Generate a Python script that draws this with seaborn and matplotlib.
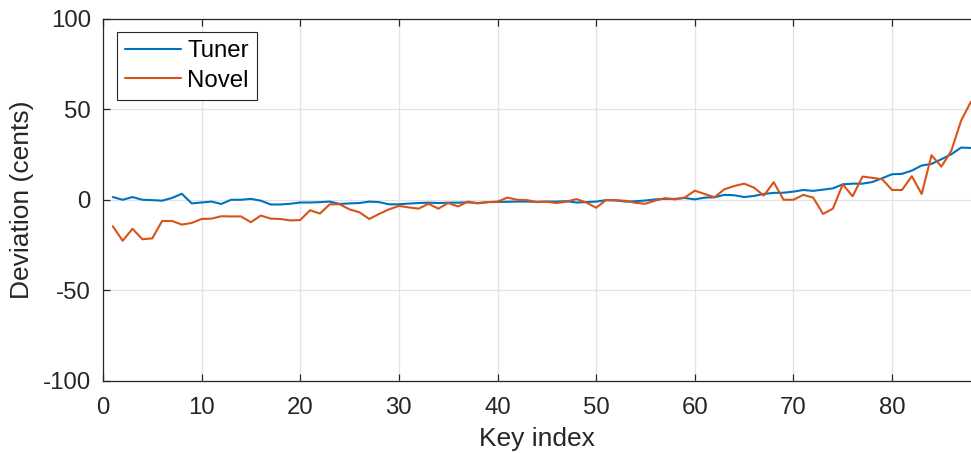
import numpy as np
import pandas as pd
import matplotlib
matplotlib.use("Agg")
import matplotlib.pyplot as plt
import seaborn as sns

# Piano key index (1..88) and deviation from equal temperament, in cents
keys = list(range(1, 89))

tuner = [
    1.5, 0.0, 1.5, 0.0, -0.2, -0.5, 1.0, 3.3, -2.0, -1.5,
    -1.0, -2.3, 0.0, 0.0, 0.5, -0.5, -2.6, -2.6, -2.2, -1.5,
    -1.5, -1.3, -1.0, -2.3, -2.0, -1.8, -1.0, -1.3, -2.5, -2.5,
    -2.1, -1.8, -1.6, -1.8, -1.6, -1.6, -1.4, -1.8, -1.3, -1.2,
    -1.1, -1.0, -1.0, -1.1, -1.0, -1.0, -0.8, -1.5, -1.3, -1.0,
    -0.2, -0.4, -1.0, -0.8, -0.4, 0.2, 0.5, 0.5, 1.0, 0.2,
    1.2, 1.4, 2.7, 2.5, 1.5, 2.1, 3.2, 3.8, 3.9, 4.5,
    5.4, 4.9, 5.6, 6.3, 8.5, 8.9, 8.9, 9.8, 11.9, 14.1,
    14.3, 16.1, 18.9, 19.8, 22.4, 25.1, 28.8, 28.6,
]

novel = [
    -14.6, -22.6, -16.0, -21.8, -21.3, -11.7, -11.7, -13.7, -12.8, -10.6,
    -10.4, -9.1, -9.2, -9.2, -12.4, -8.7, -10.4, -10.6, -11.4, -11.2,
    -5.8, -7.6, -2.5, -2.5, -5.3, -6.9, -10.6, -7.8, -5.3, -3.4,
    -4.2, -4.9, -2.2, -4.9, -1.8, -3.7, -1.0, -2.0, -1.3, -1.0,
    1.2, 0.0, -0.2, -1.3, -1.1, -1.8, -1.0, 0.4, -1.5, -4.4,
    -0.2, -0.2, -0.6, -1.7, -2.2, -0.4, 0.9, 0.2, 1.3, 5.0,
    3.2, 1.4, 5.8, 7.6, 8.9, 6.7, 2.3, 9.7, 0.0, 0.0,
    2.7, 1.2, -7.8, -4.9, 8.5, 1.9, 12.8, 12.1, 11.3, 5.4,
    5.4, 13.0, 3.2, 24.6, 18.3, 27.0, 43.7, 54.2,
]

series_names = ["Tuner", "Novel"]
series_colors = ["#0072BD", "#D95319"]

x_ticks = [0, 10, 20, 30, 40, 50, 60, 70, 80]
y_ticks = [-100, -50, 0, 50, 100]

df = pd.concat([
    pd.DataFrame({"key": keys, "dev": tuner, "method": series_names[0]}),
    pd.DataFrame({"key": keys, "dev": novel, "method": series_names[1]}),
])

sns.set_theme(style="white")
plt.rcParams["font.family"] = ["Liberation Sans", "DejaVu Sans"]
plt.rcParams["axes.unicode_minus"] = False
text_color = "#262626"

fig = plt.figure(figsize=(9.71, 4.53), dpi=100)
ax = fig.add_axes([0.106, 0.159, 0.894, 0.8])

sns.lineplot(data=df, x="key", y="dev", hue="method",
             palette=dict(zip(series_names, series_colors)),
             linewidth=1.5, ax=ax, legend=False)

ax.set_xlim(0, 88)
ax.set_ylim(-100, 100)
ax.set_xticks(x_ticks)
ax.set_yticks(y_ticks)
ax.grid(True, color="#e3e3e3", linewidth=0.9)
ax.set_axisbelow(True)

for side in ["left", "bottom", "top"]:
    ax.spines[side].set_visible(True)
    ax.spines[side].set_color(text_color)
    ax.spines[side].set_linewidth(0.9)
ax.spines["right"].set_visible(False)

ax.tick_params(axis="both", direction="in", length=5, width=0.9,
               colors=text_color, labelsize=17.3, top=True, bottom=True,
               left=True, right=False)
ax.tick_params(axis="x", pad=11.5)
ax.tick_params(axis="y", pad=8.6)
ax.set_xlabel("Key index", fontsize=19, color=text_color, labelpad=6)
ax.set_ylabel("Deviation (cents)", fontsize=19, color=text_color, labelpad=6)

handles = [plt.Line2D([], [], color=c, linewidth=1.5) for c in series_colors]
leg = ax.legend(handles, series_names, loc="upper left",
                bbox_to_anchor=(0.016, 0.963), fontsize=17.3, frameon=True,
                fancybox=False, framealpha=1, edgecolor=text_color,
                handlelength=2.33, handletextpad=0.25, borderpad=0.35,
                labelspacing=0.3, borderaxespad=0)
leg.get_frame().set_linewidth(0.8)
for t in leg.get_texts():
    t.set_color("black")

fig.savefig("out.png", dpi=100)
